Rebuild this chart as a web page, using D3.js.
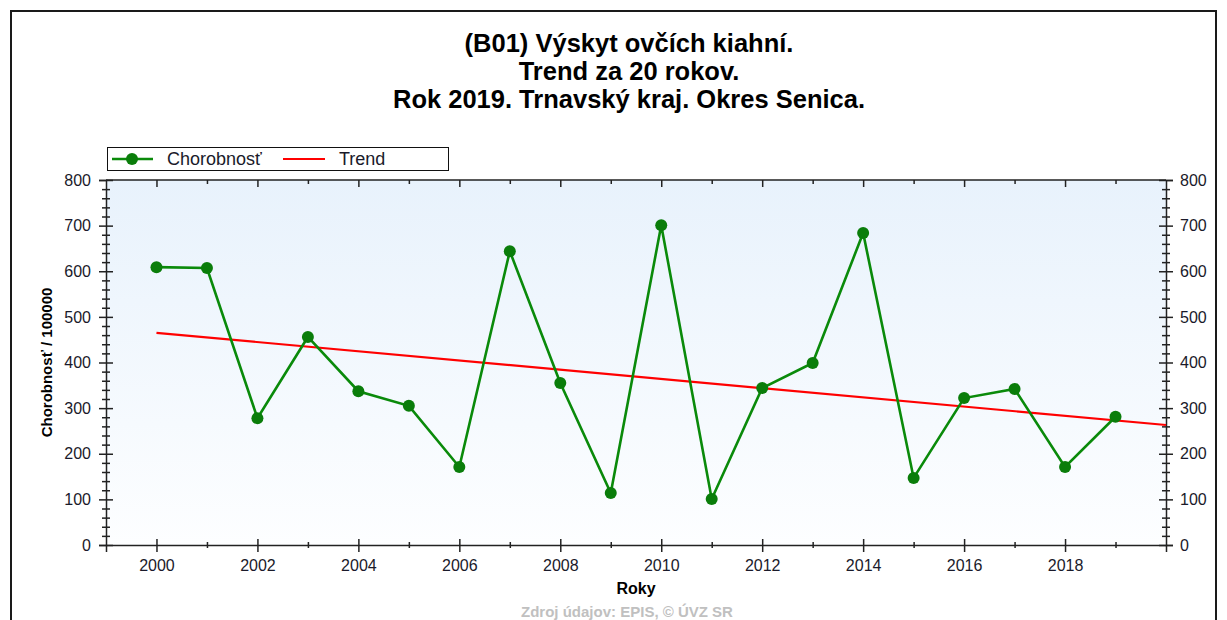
<!DOCTYPE html>
<html><head><meta charset="utf-8">
<script src="https://cdn.jsdelivr.net/npm/d3@7"></script>
<style>body{margin:0;background:#fff}svg{display:block}text{font-family:"Liberation Sans",Arial,sans-serif}</style>
</head><body>
<svg id="chart" width="1227" height="620"></svg>
<script>
const years = [2000,2001,2002,2003,2004,2005,2006,2007,2008,2009,2010,2011,2012,2013,2014,2015,2016,2017,2018,2019];
const chorobnost = [609,607,278,456,337,305,171,644,355,114,701,101,344,399,684,147,322,342,171,281];
const trendYears = [2000,2020];
const trendValues = [465,263];
const yTicks = [0,100,200,300,400,500,600,700,800];
const xLabelTicks = [2000,2002,2004,2006,2008,2010,2012,2014,2016,2018];
const titleLines = ["(B01) Výskyt ovčích kiahní.","Trend za 20 rokov.","Rok 2019. Trnavský kraj. Okres Senica."];

const svg = d3.select("#chart");
const L=106,R=1166,T=180,B=545;
const x = d3.scaleLinear().domain([1999,2020]).range([L,R]);
const y = d3.scaleLinear().domain([0,800]).range([B,T]);

svg.append("rect").attr("width",1227).attr("height",620).attr("fill","#fff");
svg.append("rect").attr("x",11).attr("y",11).attr("width",1205).attr("height",640)
  .attr("fill","none").attr("stroke","#1a1a1a").attr("stroke-width",2);

const defs = svg.append("defs");
const g = defs.append("linearGradient").attr("id","bg").attr("x1",0).attr("y1",0).attr("x2",0).attr("y2",1);
g.append("stop").attr("offset","0%").attr("stop-color","#e8f2fc");
g.append("stop").attr("offset","100%").attr("stop-color","#fdfeff");
svg.append("rect").attr("x",L).attr("y",T).attr("width",R-L).attr("height",B-T).attr("fill","url(#bg)");

// title
svg.append("g").selectAll("text").data(titleLines).join("text")
  .attr("x",629).attr("y",(d,i)=>52+i*28).attr("text-anchor","middle")
  .attr("font-size",25.5).attr("font-weight","bold").attr("fill","#000").text(d=>d);

const minorY = d3.range(0,801,20).filter(v=>v%100!==0);
const allYears = d3.range(2000,2020);
const oddYears = allYears.filter(v=>v%2===1);

function styleAxis(sel){sel.selectAll("path").attr("stroke","#222").attr("stroke-width",1.5);
  sel.selectAll("line").attr("stroke","#222").attr("stroke-width",1.5);
  sel.selectAll("text").attr("font-size",16).attr("fill","#1a1a2a").attr("font-family","'Liberation Sans',Arial,sans-serif");}

// left axis
svg.append("g").attr("transform",`translate(${L},0)`).call(d3.axisLeft(y).tickValues(yTicks).tickSize(7).tickPadding(8)).call(styleAxis);
svg.append("g").attr("transform",`translate(${L},0)`).call(d3.axisRight(y).tickValues(yTicks).tickSize(7).tickFormat("")).call(styleAxis).select("path").remove();
svg.append("g").attr("transform",`translate(${L},0)`).call(d3.axisLeft(y).tickValues(minorY).tickSize(4).tickFormat("")).call(styleAxis).select("path").remove();
svg.append("g").attr("transform",`translate(${L},0)`).call(d3.axisRight(y).tickValues(minorY).tickSize(4).tickFormat("")).call(styleAxis).select("path").remove();
// right axis
svg.append("g").attr("transform",`translate(${R},0)`).call(d3.axisRight(y).tickValues(yTicks).tickSize(7).tickPadding(7)).call(styleAxis);
svg.append("g").attr("transform",`translate(${R},0)`).call(d3.axisLeft(y).tickValues(yTicks).tickSize(7).tickFormat("")).call(styleAxis).select("path").remove();
svg.append("g").attr("transform",`translate(${R},0)`).call(d3.axisRight(y).tickValues(minorY).tickSize(4).tickFormat("")).call(styleAxis).select("path").remove();
svg.append("g").attr("transform",`translate(${R},0)`).call(d3.axisLeft(y).tickValues(minorY).tickSize(4).tickFormat("")).call(styleAxis).select("path").remove();
// bottom axis
svg.append("g").attr("transform",`translate(0,${B})`).call(d3.axisBottom(x).tickValues(xLabelTicks).tickSize(7).tickPadding(8).tickFormat(d3.format("d"))).call(styleAxis);
svg.append("g").attr("transform",`translate(0,${B})`).call(d3.axisTop(x).tickValues(xLabelTicks).tickSize(6).tickFormat("")).call(styleAxis).select("path").remove();
svg.append("g").attr("transform",`translate(0,${B})`).call(d3.axisBottom(x).tickValues(oddYears).tickSize(3).tickFormat("")).call(styleAxis).select("path").remove();
svg.append("g").attr("transform",`translate(0,${B})`).call(d3.axisTop(x).tickValues(oddYears).tickSize(3).tickFormat("")).call(styleAxis).select("path").remove();
// top axis
svg.append("g").attr("transform",`translate(0,${T})`).call(d3.axisBottom(x).tickValues(xLabelTicks).tickSize(7).tickFormat("")).call(styleAxis).select("path").attr("d",`M${L},0H${R}`);
svg.append("g").attr("transform",`translate(0,${T})`).call(d3.axisBottom(x).tickValues(oddYears).tickSize(4).tickFormat("")).call(styleAxis).select("path").remove();

// axis titles
svg.append("text").attr("transform",`translate(52,${(T+B)/2}) rotate(-90)`).attr("text-anchor","middle")
  .attr("font-size",15).attr("font-weight","bold").attr("fill","#000").text("Chorobnosť / 100000");
svg.append("text").attr("x",(L+R)/2).attr("y",594).attr("text-anchor","middle")
  .attr("font-size",16).attr("font-weight","bold").attr("fill","#000").text("Roky");
svg.append("text").attr("x",627).attr("y",617).attr("text-anchor","middle")
  .attr("font-size",15).attr("font-weight","bold").attr("fill","#c0c0c0").text("Zdroj údajov: EPIS, © ÚVZ SR");

// trend
svg.append("path").datum(trendYears.map((d,i)=>[d,trendValues[i]]))
  .attr("d",d3.line().x(d=>x(d[0])).y(d=>y(d[1]))).attr("fill","none").attr("stroke","#ff0000").attr("stroke-width",2.2);

// series
const pts = years.map((d,i)=>[d,chorobnost[i]]);
svg.append("path").datum(pts).attr("d",d3.line().x(d=>x(d[0])).y(d=>y(d[1])))
  .attr("fill","none").attr("stroke","#0a8a0a").attr("stroke-width",2.6);
svg.append("g").selectAll("circle").data(pts).join("circle")
  .attr("cx",d=>x(d[0])).attr("cy",d=>y(d[1])).attr("r",6).attr("fill","#0a7d0a");

// legend
const lg = svg.append("g");
lg.append("rect").attr("x",107.5).attr("y",147.5).attr("width",341).attr("height",23).attr("fill","#fff").attr("stroke","#111").attr("stroke-width",1);
lg.append("line").attr("x1",112).attr("x2",153).attr("y1",159).attr("y2",159).attr("stroke","#0a8a0a").attr("stroke-width",2.6);
lg.append("circle").attr("cx",132).attr("cy",159).attr("r",6).attr("fill","#0a7d0a");
lg.append("text").attr("x",167).attr("y",165).attr("font-size",18).attr("fill","#1a1a2a").text("Chorobnosť");
lg.append("line").attr("x1",283).attr("x2",325).attr("y1",159).attr("y2",159).attr("stroke","#ff0000").attr("stroke-width",2.2);
lg.append("text").attr("x",339).attr("y",165).attr("font-size",18).attr("fill","#1a1a2a").text("Trend");
</script>
</body></html>
